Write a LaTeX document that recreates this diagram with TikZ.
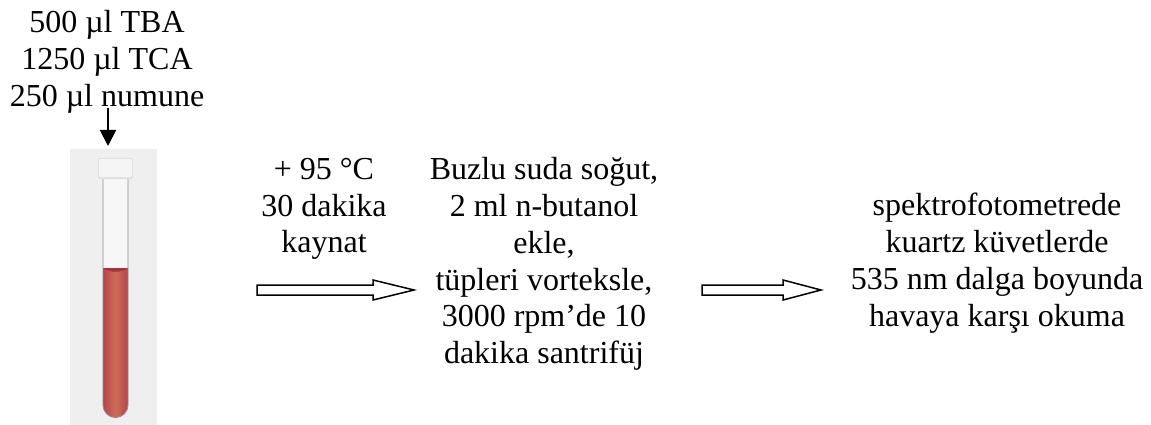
\documentclass[tikz,border=0pt]{standalone}
\usepackage{fontspec}
\setmainfont{Liberation Serif}
\usetikzlibrary{arrows.meta,calc}

\definecolor{panelgri}{HTML}{EFEFEF}
\definecolor{sivikenar}{HTML}{B5444A}
\definecolor{siviorta}{HTML}{CE6C58}
\definecolor{sivimenisk}{HTML}{A8333A}

\tikzset{
    metin/.style={align=center, inner sep=0pt, font=\fontsize{32}{36.8}\selectfont},
    % hollow block arrow between two coordinates
    bosok/.style={draw=black, fill=white, line width=1.5pt, line join=miter,
        to path={let \p1=(\tikztostart), \p2=(\tikztotarget) in
            (\x1,\y1+5) -- (\x2-#1,\y1+5) -- (\x2-#1,\y1+10) -- (\x2,\y1)
            -- (\x2-#1,\y1-10) -- (\x2-#1,\y1-5) -- (\x1,\y1-5) -- cycle}},
}

\begin{document}
\begin{tikzpicture}[x=1pt, y=-1pt]
    \useasboundingbox (0,0) rectangle (1151,425);

    % tube panel
    \fill[panelgri] (70,149) rectangle (157,425);
    % air space
    \fill[white!97!black] (103,178) rectangle (128,270);
    % liquid
    \shade[left color=sivikenar, right color=sivikenar, middle color=siviorta]
        (103,268) -- (128,268) -- (128,405) arc[start angle=0, end angle=180, radius=12.5] -- cycle;
    \fill[sivimenisk] (103,268) .. controls (110,273) and (121,273) .. (128,268) -- cycle;
    % glass wall
    \draw[black!45, line width=0.9pt] (103,178) -- (103,405) arc[start angle=180, end angle=0, radius=12.5] -- (128,178);
    % cap
    \fill[black!12, rounded corners=1.5pt] (98,158) rectangle (133,179);
    \fill[white!96!black, rounded corners=1pt] (99,159) rectangle (132,177);

    % texts
    \node[metin] (numune) at (107,62) {500 µl TBA\\1250 µl TCA\\250 µl numune};
    \node[metin] (kaynat) at (324,209) {+ 95 °C\\30 dakika\\kaynat};
    \node[metin] (santrifuj) at (544,264) {Buzlu suda soğut,\\2 ml n-butanol\\ekle,\\tüpleri vorteksle,\\3000 rpm’de 10\\dakika santrifüj};
    \node[metin] (okuma) at (997,263) {spektrofotometrede\\kuartz küvetlerde\\535 nm dalga boyunda\\havaya karşı okuma};

    % arrows
    \coordinate (ekleA) at (108,108);
    \coordinate (ekleB) at (108,146);
    \coordinate (ok1A) at (257,290);
    \coordinate (ok1B) at (414,290);
    \coordinate (ok2A) at (702,290);
    \coordinate (ok2B) at (821,290);

    \draw[line width=2pt, -{Triangle[length=16pt, width=16pt]}] (ekleA) -- (ekleB);
    \draw[bosok=41] (ok1A) to (ok1B);
    \draw[bosok=38] (ok2A) to (ok2B);
\end{tikzpicture}
\end{document}
